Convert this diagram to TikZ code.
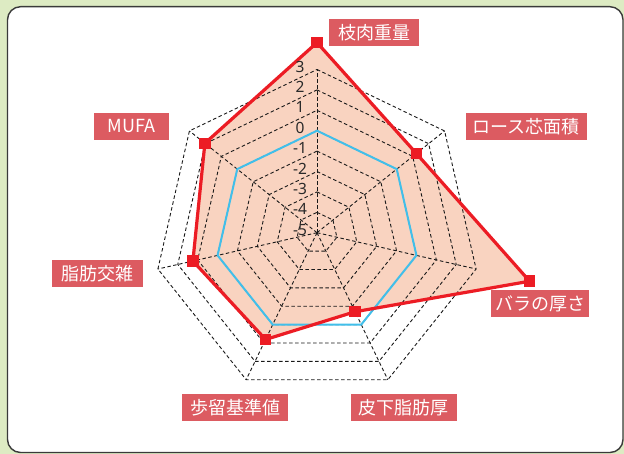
\documentclass[tikz,border=0pt]{standalone}
\usepackage{fontspec}
\setmainfont{Noto Sans}
\newfontfamily\cjk{Noto Sans CJK JP}
\definecolor{bggreen}{HTML}{DDEBC3}
\definecolor{framegray}{HTML}{3A3A3A}
\definecolor{boxred}{HTML}{DC5B61}
\definecolor{datared}{HTML}{EC1C24}
\definecolor{peach}{HTML}{F9D3C0}
\definecolor{stdblue}{HTML}{41BFEA}
\definecolor{numgray}{HTML}{2A2A2A}
\begin{document}
\begin{tikzpicture}[x=1pt,y=1pt,
  ring/.style={draw=black!90,line width=0.9pt,dash pattern=on 3.5pt off 2.5pt},
  spoke/.style={draw=black!90,line width=0.9pt,dash pattern=on 3.5pt off 2.5pt},
  stdline/.style={draw=stdblue,line width=2pt,line join=miter},
  dataline/.style={draw=datared,line width=3.2pt,line join=miter},
  marker/.style={fill=datared,minimum size=11.5pt,inner sep=0pt,outer sep=0pt,draw=none,rectangle},
  num/.style={font=\fontsize{15.5}{15.5}\selectfont,text=numgray,inner sep=0pt,anchor=center},
  tag/.style={fill=boxred,text=white,font=\cjk\fontsize{18}{18}\selectfont,minimum height=26.7pt,inner sep=0pt,anchor=center}
]
\useasboundingbox (0,0) rectangle (624,-454);
\fill[bggreen] (0,0) rectangle (624,-454);
\draw[draw=framegray,line width=1.4pt,fill=white,rounded corners=13pt] (7.5,-6.7) rectangle (623,-452.5);

\begin{scope}[shift={(317,-232.7)}]
  \def\u{20.4}
  % data points
  \coordinate (d0) at (90:{9.32*\u});
  \coordinate (d1) at ({90-1*360/7}:{6.23*\u});
  \coordinate (d2) at ({90-2*360/7}:{10.69*\u});
  \coordinate (d3) at ({90-3*360/7}:{4.30*\u});
  \coordinate (d4) at ({90-4*360/7}:{5.81*\u});
  \coordinate (d5) at ({90-5*360/7}:{6.24*\u});
  \coordinate (d6) at ({90-6*360/7}:{7.03*\u});
  \fill[peach] (d0) -- (d1) -- (d2) -- (d3) -- (d4) -- (d5) -- (d6) -- cycle;
  % grid rings
  \foreach \k in {1,...,8}{
    \draw[ring] (90:{\k*\u}) \foreach \i in {1,...,6}{ -- ({90-\i*360/7}:{\k*\u}) } -- cycle;
  }
  \coordinate (c) at (0,0);
  \foreach \i in {0,...,6}{
    \coordinate (o\i) at ({90-\i*360/7}:{8*\u});
    \draw[spoke] (c) -- (o\i);
  }
  % standard (0) line
  \foreach \i in {0,...,6}{ \coordinate (s\i) at ({90-\i*360/7}:{5*\u}); }
  \draw[stdline] (s0) -- (s1) -- (s2) -- (s3) -- (s4) -- (s5) -- (s6) -- cycle;
  % data line
  \draw[dataline] (d0) -- (d1) -- (d2) -- (d3) -- (d4) -- (d5) -- (d6) -- cycle;
  \foreach \i in {0,...,6}{ \node[marker] (m\i) at (d\i) {}; }
  % scale numbers
  \node[num] (n3) at (-17,{8*\u+3}) {3};
  \node[num] (n2) at (-17,{7*\u+3}) {2};
  \node[num] (n1) at (-17,{6*\u+3}) {1};
  \node[num] (n0) at (-17,{5*\u+3}) {0};
  \node[num] (nm1) at (-17,{4*\u+3}) {-1};
  \node[num] (nm2) at (-17,{3*\u+3}) {-2};
  \node[num] (nm3) at (-17,{2*\u+3}) {-3};
  \node[num] (nm4) at (-17,{1*\u+3}) {-4};
  \node[num] (nm5) at (-17,{0*\u+3}) {-5};
\end{scope}

% axis labels
\node[tag,minimum width=90.5pt] (t0) at (374.2,-32.3) {枝肉重量};
\node[tag,minimum width=120.7pt] (t1) at (526.3,-126.7) {ロース芯面積};
\node[tag,minimum width=98.3pt] (t2) at (540.2,-303.7) {バラの厚さ};
\node[tag,minimum width=105.7pt] (t3) at (403.8,-407.5) {皮下脂肪厚};
\node[tag,minimum width=105.3pt] (t4) at (235,-407.5) {歩留基準値};
\node[tag,minimum width=90.4pt] (t5) at (97.5,-273.3) {脂肪交雑};
\node[tag,minimum width=75.3pt] (t6) at (131.7,-126.3) {MUFA};
\end{tikzpicture}
\end{document}
